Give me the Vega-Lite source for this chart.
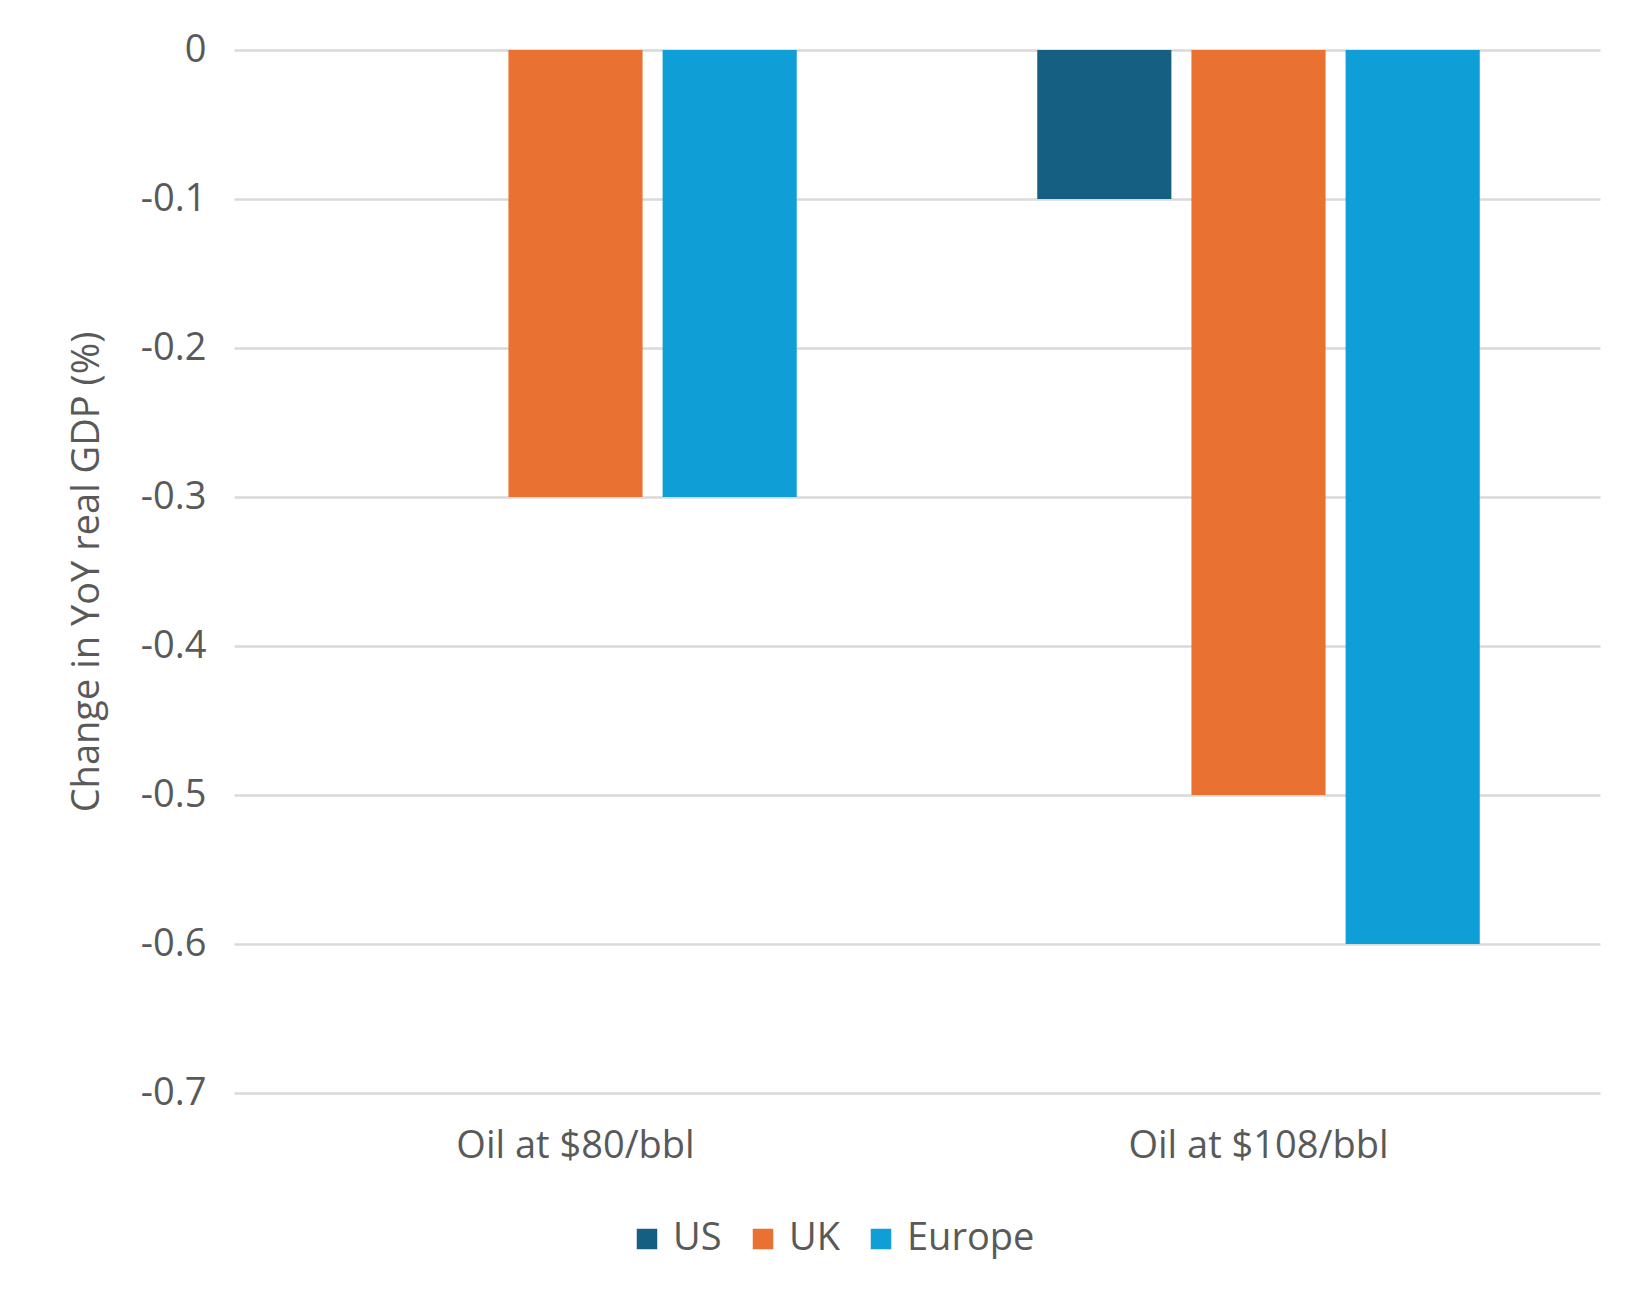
{
  "$schema": "https://vega.github.io/schema/vega-lite/v6.json",
  "autosize": {"type": "none"},
  "padding": {"left": 234, "top": 50, "right": 50, "bottom": 211},
  "width": 1366,
  "height": 1043,
  "background": "white",
  "config": {
    "view": {"stroke": null},
    "font": "Open Sans",
    "axis": {"labelColor": "#595959", "titleColor": "#595959", "labelFont": "Open Sans", "titleFont": "Open Sans"},
    "legend": {"labelColor": "#595959", "labelFont": "Open Sans"}
  },
  "data": {
    "values": [
      {"scenario": "Oil at $80/bbl", "region": "US", "value": 0},
      {"scenario": "Oil at $80/bbl", "region": "UK", "value": -0.3},
      {"scenario": "Oil at $80/bbl", "region": "Europe", "value": -0.3},
      {"scenario": "Oil at $108/bbl", "region": "US", "value": -0.1},
      {"scenario": "Oil at $108/bbl", "region": "UK", "value": -0.5},
      {"scenario": "Oil at $108/bbl", "region": "Europe", "value": -0.6}
    ]
  },
  "mark": {"type": "bar"},
  "encoding": {
    "x": {
      "field": "scenario",
      "type": "nominal",
      "sort": ["Oil at $80/bbl", "Oil at $108/bbl"],
      "scale": {"paddingInner": 0, "paddingOuter": 0},
      "axis": {
        "title": null,
        "labelAngle": 0,
        "labelFontSize": 38,
        "labelLimit": 0,
        "labelPadding": 34,
        "labelBaseline": "top",
        "ticks": false,
        "domain": false,
        "grid": false
      }
    },
    "xOffset": {
      "field": "region",
      "type": "nominal",
      "sort": ["US", "UK", "Europe"],
      "scale": {"paddingInner": 0.13, "paddingOuter": 0.78}
    },
    "y": {
      "field": "value",
      "type": "quantitative",
      "scale": {"domain": [-0.7, 0], "nice": false, "zero": false},
      "axis": {
        "title": "Change in YoY real GDP (%)",
        "titleFontSize": 38,
        "titleFontWeight": "normal",
        "titlePadding": 34,
        "values": [0, -0.1, -0.2, -0.3, -0.4, -0.5, -0.6, -0.7],
        "format": ".1~f",
        "labelExpr": "replace(datum.label, '\u2212', '-')",
        "labelFontSize": 38,
        "labelPadding": 28,
        "ticks": false,
        "domain": false,
        "grid": true,
        "gridColor": "#d9d9d9",
        "gridWidth": 2.5
      }
    },
    "color": {
      "field": "region",
      "type": "nominal",
      "sort": ["US", "UK", "Europe"],
      "scale": {"domain": ["US", "UK", "Europe"], "range": ["#156082", "#E97132", "#0F9ED5"]},
      "legend": {
        "title": null,
        "orient": "none",
        "direction": "horizontal",
        "legendX": 394,
        "legendY": 1170,
        "symbolType": "square",
        "symbolSize": 420,
        "symbolStrokeWidth": 0,
        "labelFontSize": 38,
        "labelOffset": 7,
        "columnPadding": 22
      }
    }
  }
}
